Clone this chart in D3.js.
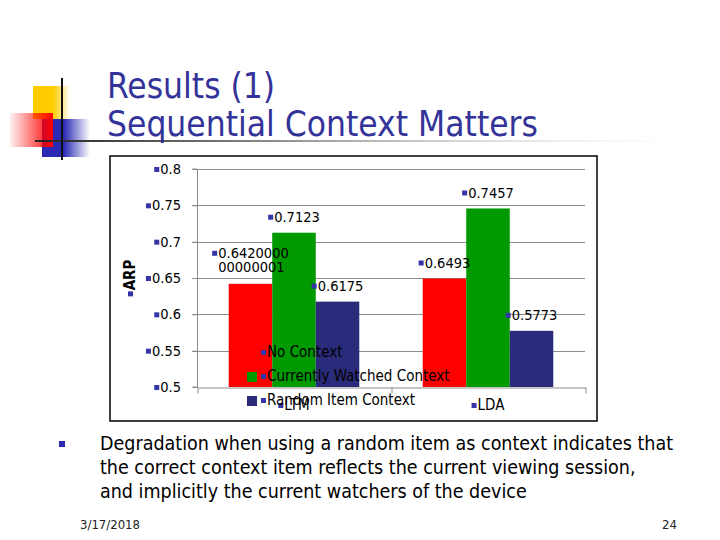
<!DOCTYPE html>
<html>
<head>
<meta charset="utf-8">
<script src="https://cdn.jsdelivr.net/npm/d3@7"></script>
<style>
  html, body { margin: 0; padding: 0; background: #ffffff; }
  svg { display: block; }
  text { font-family: "DejaVu Sans Condensed", "DejaVu Sans", sans-serif; }
</style>
</head>
<body>
<svg id="chart" width="720" height="540"></svg>
<script>
// ---------- data ----------
const categories = ["LTM", "LDA"];
const seriesNames = ["No Context", "Currently Watched Context", "Random Item Context"];
const noContext = [0.642000000000001, 0.6493];
const currentlyWatched = [0.7123, 0.7457];
const randomItem = [0.6175, 0.5773];
const yTicks = [0.5, 0.55, 0.6, 0.65, 0.7, 0.75, 0.8];
const yTickLabels = ["0.5", "0.55", "0.6", "0.65", "0.7", "0.75", "0.8"];
const yAxisTitle = "ARP";
const titleLines = ["Results (1)", "Sequential Context Matters"];
const bodyLines = [
  "Degradation when using a random item as context indicates that",
  "the correct context item reflects the current viewing session,",
  "and implicitly the current watchers of the device"
];
const footerDate = "3/17/2018";
const footerPage = "24";

const seriesValues = [noContext, currentlyWatched, randomItem];
const colors = ["#ff0000", "#009900", "#2b2b7b"];
const markerColor = "#3535a8";
const titleColor = "#333399";

const svg = d3.select("#chart");
const defs = svg.append("defs");

// ---------- slide decoration ----------
function hGrad(id, stops) {
  const g = defs.append("linearGradient").attr("id", id)
    .attr("x1", "0%").attr("x2", "100%").attr("y1", "0%").attr("y2", "0%");
  stops.forEach(s => g.append("stop").attr("offset", s[0]).attr("stop-color", s[1]).attr("stop-opacity", s[2]));
}
hGrad("gYellow", [["0%", "#ffcc00", 1], ["55%", "#ffcc00", 1], ["100%", "#ffcc00", 0]]);
hGrad("gRed", [["0%", "#ff0000", 0.05], ["100%", "#ff0000", 1]]);
hGrad("gBlue", [["0%", "#2a2ab4", 1], ["45%", "#2a2ab4", 1], ["100%", "#2a2ab4", 0]]);
hGrad("gLine", [["0%", "#222222", 1], ["30%", "#777777", 1], ["100%", "#dddddd", 0]]);

const deco = svg.append("g");
deco.append("rect").attr("x", 33).attr("y", 86).attr("width", 37).attr("height", 33).attr("fill", "url(#gYellow)");
deco.append("rect").attr("x", 42).attr("y", 119).attr("width", 48).attr("height", 38).attr("fill", "url(#gBlue)");
deco.append("rect").attr("x", 10).attr("y", 113).attr("width", 43).attr("height", 34).attr("fill", "url(#gRed)");
deco.append("rect").attr("x", 35).attr("y", 140).attr("width", 650).attr("height", 2).attr("fill", "url(#gLine)");
deco.append("rect").attr("x", 61).attr("y", 78).attr("width", 2).attr("height", 82).attr("fill", "#111");

// ---------- title ----------
const title = svg.append("g").attr("fill", titleColor).style("font-size", "35px");
title.append("text").attr("x", 107).attr("y", 98).text(titleLines[0]);
title.append("text").attr("x", 107).attr("y", 136).text(titleLines[1]);

// ---------- chart frame ----------
svg.append("rect").attr("x", 110).attr("y", 156).attr("width", 487).attr("height", 265)
  .attr("fill", "none").attr("stroke", "#000").attr("stroke-width", 1.5);

const plotLeft = 197, plotRight = 585, plotTop = 169, plotBottom = 387;
const y = d3.scaleLinear().domain([0.5, 0.8]).range([plotBottom, plotTop]);
const x0 = d3.scaleBand().domain(categories).range([plotLeft, plotRight]).paddingInner(0.327).paddingOuter(0.1635);
const x1 = d3.scaleBand().domain(d3.range(seriesNames.length)).range([0, x0.bandwidth()]);

const gridColor = "#8c8c8c";
// gridlines
svg.append("g").selectAll("line").data(yTicks.slice(1)).join("line")
  .attr("x1", plotLeft - 5).attr("x2", plotRight)
  .attr("y1", d => Math.round(y(d)) + 0.5).attr("y2", d => Math.round(y(d)) + 0.5)
  .attr("stroke", gridColor).attr("stroke-width", 1);

// bars
const bars = svg.append("g");
categories.forEach((c, ci) => {
  seriesValues.forEach((vals, si) => {
    bars.append("rect")
      .attr("x", x0(c) + x1(si)).attr("width", x1.bandwidth())
      .attr("y", y(vals[ci])).attr("height", y(0.5) - y(vals[ci]))
      .attr("fill", colors[si]);
  });
});

// y axis via d3 axis
const yAxis = d3.axisLeft(y).tickValues(yTicks).tickSize(5).tickFormat(() => "");
const yAxisG = svg.append("g").attr("transform", `translate(${plotLeft + 0.5},0)`).call(yAxis);
yAxisG.select(".domain").attr("stroke", gridColor).attr("d", `M-5,${y(0.8)}H0V${y(0.5)}H-5`);
yAxisG.selectAll(".tick line").attr("stroke", gridColor);

// x axis via d3 axis
const xAxisScale = d3.scaleLinear().domain([0, categories.length]).range([plotLeft, plotRight]);
const xAxis = d3.axisBottom(xAxisScale).tickValues(d3.range(categories.length + 1)).tickSize(6).tickSizeOuter(0).tickFormat(() => "");
const xAxisG = svg.append("g").attr("transform", `translate(0.5,${Math.round(y(0.5)) + 0.5})`).call(xAxis);
xAxisG.select(".domain").attr("stroke", gridColor);
xAxisG.selectAll(".tick line").attr("stroke", gridColor);

// label helper: small marker square + text
function markedText(g, str, xc, yc, size, anchor, color) {
  const t = g.append("text").attr("y", yc).attr("dy", "0.35em")
    .style("font-size", size + "px").attr("fill", color || "#000").text(str);
  const w = t.node().getComputedTextLength();
  const m = 5, gap = 1;
  let startX;
  if (anchor === "middle") startX = xc - (m + gap + w) / 2;
  else if (anchor === "end") startX = xc - (m + gap + w);
  else startX = xc;
  g.append("rect").attr("x", startX).attr("y", yc - m / 2 + 0.5).attr("width", m).attr("height", m).attr("fill", markerColor);
  t.attr("x", startX + m + gap);
  return t;
}

// y tick labels
const yLab = svg.append("g");
yTicks.forEach((v, i) => markedText(yLab, yTickLabels[i], 181, y(v), 14.5, "end"));

// y axis title (rotated)
const yTitleG = svg.append("g").attr("transform", `translate(130,${(plotTop + plotBottom) / 2}) rotate(-90)`);
const yt = yTitleG.append("text").attr("y", 0).attr("dy", "0.35em").style("font-size", "15px").style("font-weight", "bold").text(yAxisTitle);
{
  const w = yt.node().getComputedTextLength();
  const sx = -(w + 6) / 2;
  yTitleG.append("rect").attr("x", sx).attr("y", -2).attr("width", 5).attr("height", 5).attr("fill", markerColor);
  yt.attr("x", sx + 6);
}

// data labels
const dl = svg.append("g");
categories.forEach((c, ci) => {
  seriesValues.forEach((vals, si) => {
    const cx = x0(c) + x1(si) + x1.bandwidth() / 2;
    const str = String(vals[ci]);
    const lines = [];
    for (let k = 0; k < str.length; k += 9) lines.push(str.slice(k, k + 9));
    const top = y(vals[ci]);
    if (lines.length === 1) {
      markedText(dl, lines[0], cx, top - 16, 14.5, "middle");
    } else {
      const lh = 14;
      const t0 = dl.append("text").style("font-size", "14.5px").text(lines[0]);
      const w = t0.node().getComputedTextLength();
      const sx = cx - (w + 6) / 2;
      const y0 = top - 17 - lh * (lines.length - 1);
      t0.attr("x", sx + 6).attr("y", y0).attr("dy", "0.35em");
      dl.append("rect").attr("x", sx).attr("y", y0 - 2).attr("width", 5).attr("height", 5).attr("fill", markerColor);
      lines.slice(1).forEach((ln, li) => {
        dl.append("text").style("font-size", "14.5px").attr("x", sx + 6).attr("y", y0 + lh * (li + 1)).attr("dy", "0.35em").text(ln);
      });
    }
  });
});

// category labels
const cl = svg.append("g");
categories.forEach(c => markedText(cl, c, x0(c) + x0.bandwidth() / 2, 405, 15, "middle"));

// legend (overlapping, as in the original)
const lg = svg.append("g");
seriesNames.forEach((s, i) => {
  const yy = 352 + i * 24;
  lg.append("rect").attr("x", 247).attr("y", yy - 4).attr("width", 10).attr("height", 10).attr("fill", colors[i]);
  lg.append("rect").attr("x", 261).attr("y", yy - 2).attr("width", 5).attr("height", 5).attr("fill", markerColor);
  lg.append("text").attr("x", 267).attr("y", yy).attr("dy", "0.35em").style("font-size", "15px").text(s);
});

// ---------- body text ----------
svg.append("rect").attr("x", 59).attr("y", 441).attr("width", 6).attr("height", 6).attr("fill", "#2a2ab4");
const body = svg.append("g").style("font-size", "19.5px").attr("fill", "#000");
bodyLines.forEach((ln, i) => body.append("text").attr("x", 100).attr("y", 450 + i * 24).text(ln));

// footer
svg.append("text").attr("x", 80).attr("y", 529).style("font-size", "13px").attr("fill", "#222").text(footerDate);
svg.append("text").attr("x", 677).attr("y", 529).attr("text-anchor", "end").style("font-size", "13px").attr("fill", "#222").text(footerPage);
</script>
</body>
</html>
